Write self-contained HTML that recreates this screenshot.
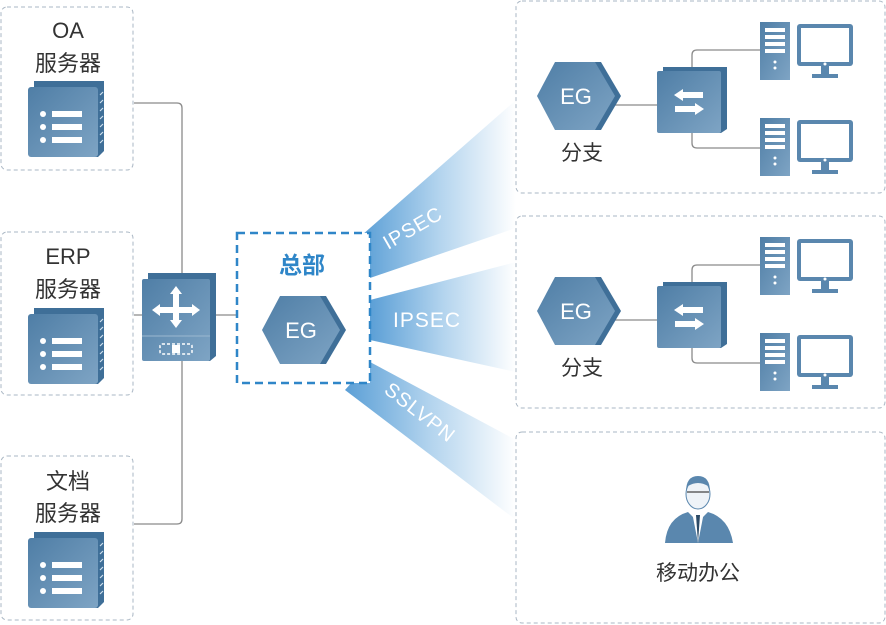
<!DOCTYPE html>
<html><head><meta charset="utf-8"><style>
html,body{margin:0;padding:0;background:#fff;}
svg{display:block;}
text{font-family:"Liberation Sans","Noto Sans CJK SC",sans-serif;}
</style></head><body>
<svg width="886" height="625" viewBox="0 0 886 625" xmlns="http://www.w3.org/2000/svg">
<defs>
<linearGradient id="beam" x1="0" y1="0" x2="1" y2="0">
<stop offset="0" stop-color="#5b9fd6"/><stop offset="0.5" stop-color="#b3d4ee"/><stop offset="1" stop-color="#ffffff"/>
</linearGradient>
<linearGradient id="dev" x1="0" y1="0" x2="1" y2="1">
<stop offset="0" stop-color="#4f7ea6"/><stop offset="1" stop-color="#7ea4c4"/>
</linearGradient>
<g id="server">
<path d="M6 0 H76 V70 L70 76 H6 Z" fill="#3f6f98"/>
<rect x="0" y="6" width="70" height="70" rx="3" fill="url(#dev)"/>
<g fill="#fff"><circle cx="15" cy="33" r="3"/><circle cx="15" cy="46" r="3"/><circle cx="15" cy="59" r="3"/>
<rect x="24" y="30" width="30" height="6"/><rect x="24" y="43" width="30" height="6"/><rect x="24" y="56" width="30" height="6"/></g>
<g stroke="#cfe0ee" stroke-width="1.2"><path d="M72 14 l3 -3 M72 22 l3 -3 M72 30 l3 -3 M72 38 l3 -3 M72 46 l3 -3 M72 54 l3 -3 M72 62 l3 -3"/></g>
</g>
<g id="eg">
<polygon points="22,3 64,3 84,37 64,71 22,71 4,37" fill="#3f6f98"/>
<polygon points="18,3 58,3 78,37 58,71 18,71 0,37" fill="url(#dev)"/>
<text x="39" y="45" text-anchor="middle" font-size="22" fill="#fff">EG</text>
</g>
<g id="pc">
<rect x="0" y="0" width="30" height="58" fill="url(#dev)"/>
<g fill="#fff"><rect x="5" y="6" width="20" height="4"/><rect x="5" y="13" width="20" height="4"/><rect x="5" y="20" width="20" height="4"/><rect x="5" y="27" width="20" height="4"/><circle cx="15" cy="40" r="1.5"/><circle cx="15" cy="46" r="1.5"/></g>
<rect x="37" y="2" width="56" height="42" rx="3" fill="#5a87ae"/>
<rect x="41" y="6" width="48" height="34" fill="#fff"/>
<circle cx="65" cy="42" r="1.5" fill="#fff"/>
<rect x="61" y="44" width="8" height="8" fill="#5a87ae"/>
<rect x="52" y="52" width="26" height="4" fill="#5a87ae"/>
</g>
<g id="bsw">
<path d="M6 0 H70 V62 L64 66 H6 Z" fill="#3f6f98"/>
<rect x="0" y="4" width="64" height="62" rx="2" fill="url(#dev)"/>
<path d="M26 22 l-9 6 l9 6 z M26 25 h20 v6 h-20z" fill="#fff"/>
<path d="M38 36 l9 6 l-9 6 z M18 39 h20 v6 h-20z" fill="#fff"/>
</g>
<g id="branch">
<rect x="516" y="1" width="369" height="192" rx="6" fill="none" stroke="#aab7c4" stroke-dasharray="4 3"/>
<path d="M615 105 H658 M692 80 V55 Q692 50 697 50 H760 M692 130 V143 Q692 148 697 148 H760" fill="none" stroke="#8a8a8a" stroke-width="1.3"/>
<use href="#eg" x="537" y="59"/>
<text x="582" y="160" text-anchor="middle" font-size="21" fill="#333">分支</text>
<use href="#bsw" x="657" y="67"/>
<use href="#pc" x="760" y="22"/>
<use href="#pc" x="760" y="118"/>
</g>
</defs>

<!-- beams -->
<polygon points="362,235 516,100 516,228 370,278" fill="url(#beam)"/>
<polygon points="370,300 516,262 516,372 370,340" fill="url(#beam)"/>
<polygon points="370,362 516,440 516,520 345,390" fill="url(#beam)"/>
<text x="0" y="0" font-size="20" fill="#fff" letter-spacing="1" transform="translate(388,250) rotate(-30)">IPSEC</text>
<text x="393" y="327" font-size="21" fill="#fff" letter-spacing="1">IPSEC</text>
<text x="0" y="0" font-size="20" fill="#fff" letter-spacing="1" transform="translate(383,392) rotate(38)">SSLVPN</text>

<!-- left boxes -->
<g fill="none" stroke="#aab7c4" stroke-dasharray="4 3">
<rect x="1" y="7" width="132" height="163" rx="6"/>
<rect x="1" y="232" width="132" height="163" rx="6"/>
<rect x="1" y="456" width="132" height="164" rx="6"/>
</g>
<g font-size="22" fill="#333" text-anchor="middle">
<text x="68" y="38">OA</text><text x="68" y="71">服务器</text>
<text x="68" y="264">ERP</text><text x="68" y="297">服务器</text>
<text x="68" y="489">文档</text><text x="68" y="521">服务器</text>
</g>
<use href="#server" x="28" y="81"/>
<use href="#server" x="28" y="308"/>
<use href="#server" x="28" y="532"/>

<!-- lines -->
<path d="M134 103 H177 Q182 103 182 108 V519 Q182 524 177 524 H134 M134 315 H142 M216 315 H237" fill="none" stroke="#8a8a8a" stroke-width="1.3"/>

<!-- core switch -->
<path d="M148 273 H216 V356 L210 361 H148 Z" fill="#3f6f98"/>
<rect x="142" y="279" width="68" height="82" rx="2" fill="url(#dev)"/>
<line x1="142" y1="336" x2="210" y2="336" stroke="#9bb8d0" stroke-width="1"/>
<g fill="#fff">
<path d="M176 286 l-6 8 h12z M176 328 l-6 -8 h12z M152 310 l8 -6 v12z M200 310 l-8 -6 v12z"/>
<rect x="173" y="293" width="6" height="28"/><rect x="159" y="307" width="34" height="6"/>
</g>
<rect x="160" y="344" width="32" height="10" rx="2" fill="none" stroke="#fff" stroke-width="1.5" stroke-dasharray="3 2"/>
<rect x="172" y="345" width="8" height="8" fill="#fff"/>

<!-- HQ -->
<rect x="237" y="233" width="133" height="150" fill="#fff" stroke="#2f86c8" stroke-width="2.5" stroke-dasharray="8 5"/>
<text x="302" y="273" text-anchor="middle" font-size="23" font-weight="bold" fill="#2f86c8">总部</text>
<use href="#eg" x="262" y="293"/>

<!-- branches -->
<use href="#branch"/>
<use href="#branch" y="215"/>

<!-- mobile -->
<rect x="516" y="432" width="369" height="191" rx="6" fill="none" stroke="#aab7c4" stroke-dasharray="4 3"/>
<path d="M665 543 Q667 518 688 512 L698 522 L708 512 Q729 518 733 543 Z" fill="#5a87ae"/>
<path d="M692 512 L698 543 L704 512 Z" fill="#fff"/>
<path d="M696 515 L698 543 L700 515 Z" fill="#2c4a66"/>
<ellipse cx="698" cy="494" rx="12" ry="15" fill="#eef3f8" stroke="#5a87ae" stroke-width="1"/>
<path d="M686 492 Q686 476 698 476 Q710 476 710 492 L708 486 Q698 480 688 486 Z" fill="#5a87ae"/>
<line x1="687" y1="492" x2="709" y2="492" stroke="#444" stroke-width="1.2"/>
<text x="698" y="580" text-anchor="middle" font-size="21" fill="#333">移动办公</text>
</svg>
</body></html>
